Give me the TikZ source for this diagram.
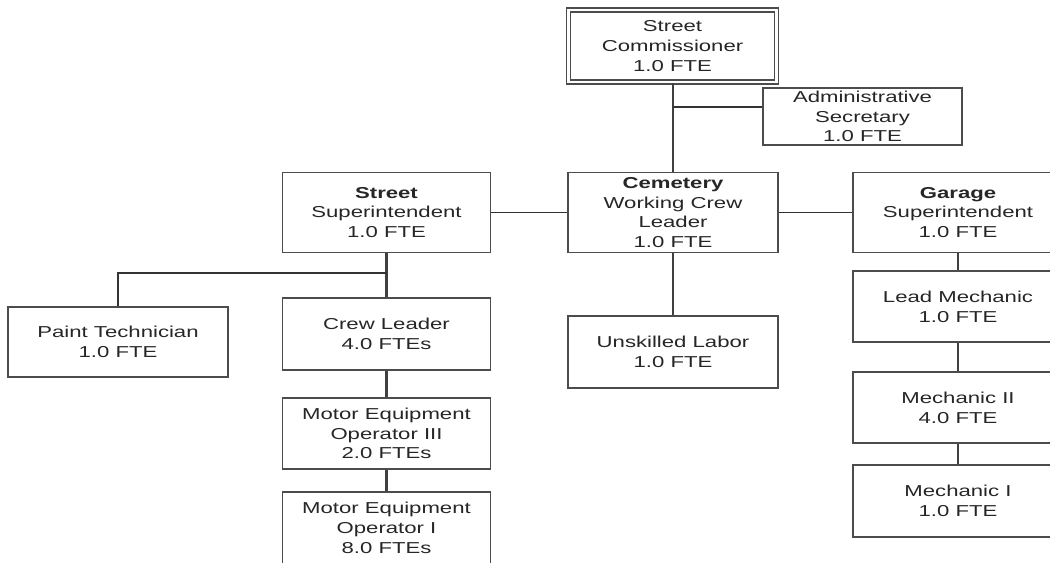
\documentclass[tikz,border=0pt]{standalone}
\usepackage{fontspec}
\newfontfamily\orgfont[FakeStretch=1.4]{Liberation Sans}
\tikzset{
	job/.style={draw=black!70, line width=0.9pt, align=center, inner sep=0pt,
		text=black!85, font=\orgfont\fontsize{9}{11.2}\selectfont,
		minimum width=4.16cm, minimum height=1.43cm},
	vline/.style={draw=black!75, line width=1.2pt},
	hline/.style={draw=black!80, line width=0.7pt}
}
\begin{document}
\begin{tikzpicture}[x=0.02cm, y=-0.02cm]
	\useasboundingbox (0,0) rectangle (1050,562);
	\clip (0,0) rectangle (1050,562);
	% Leitung
	\node[job, double, double distance=1.4pt, minimum width=4.16cm] (comm) at (672.5,46) {Street\\Commissioner\\1.0 FTE};
	\node[job, minimum width=3.98cm, minimum height=1.14cm] (admin) at (862.5,116.5) {Administrative\\Secretary\\1.0 FTE};
	% zweite Ebene
	\node[job, minimum height=1.6cm] (street) at (386.5,212.5) {\textbf{Street}\\Superintendent\\1.0 FTE};
	\node[job, minimum width=4.2cm, minimum height=1.6cm] (cem) at (673,212.5) {\textbf{Cemetery}\\Working Crew\\Leader\\1.0 FTE};
	\node[job, minimum width=4.2cm, minimum height=1.6cm] (garage) at (958,212.5) {\textbf{Garage}\\Superintendent\\1.0 FTE};
	% Strassen
	\node[job, minimum width=4.4cm, minimum height=1.4cm] (paint) at (118,342) {Paint Technician\\1.0 FTE};
	\node[job] (crew) at (386.5,334) {Crew Leader\\4.0 FTEs};
	\node[job] (meo3) at (386.5,433.5) {Motor Equipment\\Operator III\\2.0 FTEs};
	\node[job] (meo1) at (386.5,528) {Motor Equipment\\Operator I\\8.0 FTEs};
	% Friedhof
	\node[job, minimum width=4.2cm] (labor) at (673,352) {Unskilled Labor\\1.0 FTE};
	% Werkstatt
	\node[job, minimum width=4.2cm] (lead) at (958,306.5) {Lead Mechanic\\1.0 FTE};
	\node[job, minimum width=4.2cm] (mech2) at (958,407.5) {Mechanic II\\4.0 FTE};
	\node[job, minimum width=4.2cm] (mech1) at (958,501) {Mechanic I\\1.0 FTE};
	% Verbindungen
	\coordinate (adminjoin) at (673,107);
	\coordinate (paintjoin) at (386.5,273);
	\draw[vline] (comm.south -| cem.north) -- (cem.north);
	\draw[hline] (adminjoin) -- (adminjoin -| admin.west);
	\draw[hline] (street.east) -- (cem.west);
	\draw[hline] (cem.east) -- (garage.west);
	\draw[vline] (street.south) -- (crew.north);
	\draw[hline] (paintjoin) -| (paint.north);
	\draw[vline] (crew.south) -- (meo3.north);
	\draw[vline] (meo3.south) -- (meo1.north);
	\draw[vline] (cem.south) -- (labor.north);
	\draw[vline] (garage.south) -- (lead.north);
	\draw[vline] (lead.south) -- (mech2.north);
	\draw[vline] (mech2.south) -- (mech1.north);
\end{tikzpicture}
\end{document}
